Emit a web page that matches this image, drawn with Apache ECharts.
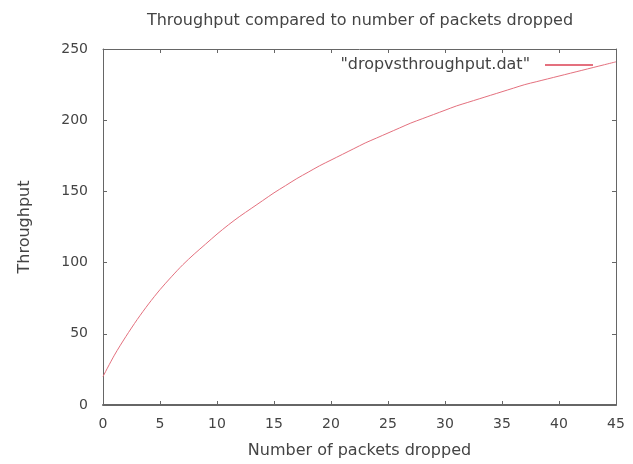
<!DOCTYPE html>
<html>
<head>
<meta charset="utf-8">
<script src="https://cdn.jsdelivr.net/npm/echarts@6/dist/echarts.min.js"></script>
<style>
  html, body { margin: 0; padding: 0; background: #fff; }
  #main { width: 633px; height: 464px; }
</style>
</head>
<body>
<div id="main"></div>
<script>
// packets dropped (x) and throughput (y)
var dropped = [0, 1, 2, 3, 4, 5, 6, 7, 8, 9, 10, 11, 12, 13, 14, 15, 16, 17, 18, 19, 20, 21, 22,
    23, 24, 25, 26, 27, 28, 29, 30, 31, 32, 33, 34, 35, 36, 37, 38, 39, 40, 41, 42, 43, 44, 45];
var throughput = [20, 35, 48, 60, 71, 81, 90, 98.5, 106, 113, 120, 126.5, 132.5, 138, 143.5, 149,
    154, 159, 163.5, 168, 172, 176, 180, 184, 187.5, 191, 194.5, 198, 201, 204, 207, 210, 212.5,
    215, 217.5, 220, 222.5, 225, 227, 229, 231, 233, 235, 237, 239, 241];
var seriesName = '"dropvsthroughput.dat"';

var points = [];
dropped.forEach(function(x, i) {
    points.push([x, throughput[i]]);
});

var textColor = '#444';
var axisColor = '#666';
var lineColor = '#e4707e';
var font = 'DejaVu Sans';

var myChart = echarts.init(document.getElementById('main'));

// mirror axes (top / right) only carry the inward ticks, like gnuplot
function mirror(pos, max, step) {
    return {
        type: 'value',
        position: pos,
        min: 0,
        max: max,
        interval: step,
        axisLine: { show: true, onZero: false, lineStyle: { color: axisColor, width: 1 } },
        axisTick: { show: true, inside: true, length: 4, lineStyle: { color: axisColor } },
        axisLabel: { show: false },
        splitLine: { show: false }
    };
}

var option = {
    animation: false,
    backgroundColor: '#fff',
    title: {
        text: 'Throughput compared to number of packets dropped',
        left: 355,
        top: 8,
        textAlign: 'center',
        textStyle: { fontFamily: font, fontSize: 16, fontWeight: 'normal', color: textColor }
    },
    legend: {
        data: [seriesName],
        right: 35,
        top: 52,
        align: 'right',
        itemWidth: 48,
        itemHeight: 2,
        icon: 'rect',
        itemGap: 8,
        itemStyle: { color: lineColor },
        textStyle: { fontFamily: font, fontSize: 16, color: textColor, padding: [0, 10, 0, 0] }
    },
    grid: {
        left: 103,
        right: 17,
        top: 49,
        bottom: 55
    },
    xAxis: [{
        type: 'value',
        min: 0,
        max: 45,
        interval: 5,
        name: 'Number of packets dropped',
        nameLocation: 'middle',
        nameGap: 38,
        nameTextStyle: { fontFamily: font, fontSize: 16, color: textColor },
        axisLine: { onZero: false, lineStyle: { color: axisColor, width: 2 } },
        axisTick: { inside: true, length: 4, lineStyle: { color: axisColor } },
        axisLabel: { margin: 12, fontFamily: font, fontSize: 14, color: textColor },
        splitLine: { show: false }
    }, mirror('top', 45, 5)],
    yAxis: [{
        type: 'value',
        min: 0,
        max: 250,
        interval: 50,
        name: 'Throughput',
        nameLocation: 'middle',
        nameGap: 70,
        nameTextStyle: { fontFamily: font, fontSize: 16, color: textColor },
        axisLine: { show: true, onZero: false, lineStyle: { color: axisColor, width: 1 } },
        axisTick: { inside: true, length: 4, lineStyle: { color: axisColor } },
        axisLabel: { margin: 15, fontFamily: font, fontSize: 14, color: textColor },
        splitLine: { show: false }
    }, mirror('right', 250, 50)],
    series: [{
        name: seriesName,
        type: 'line',
        xAxisIndex: 0,
        yAxisIndex: 0,
        showSymbol: false,
        smooth: 0.3,
        itemStyle: { color: lineColor },
        lineStyle: { color: lineColor, width: 1 },
        data: points
    }]
};

myChart.setOption(option);
</script>
</body>
</html>
